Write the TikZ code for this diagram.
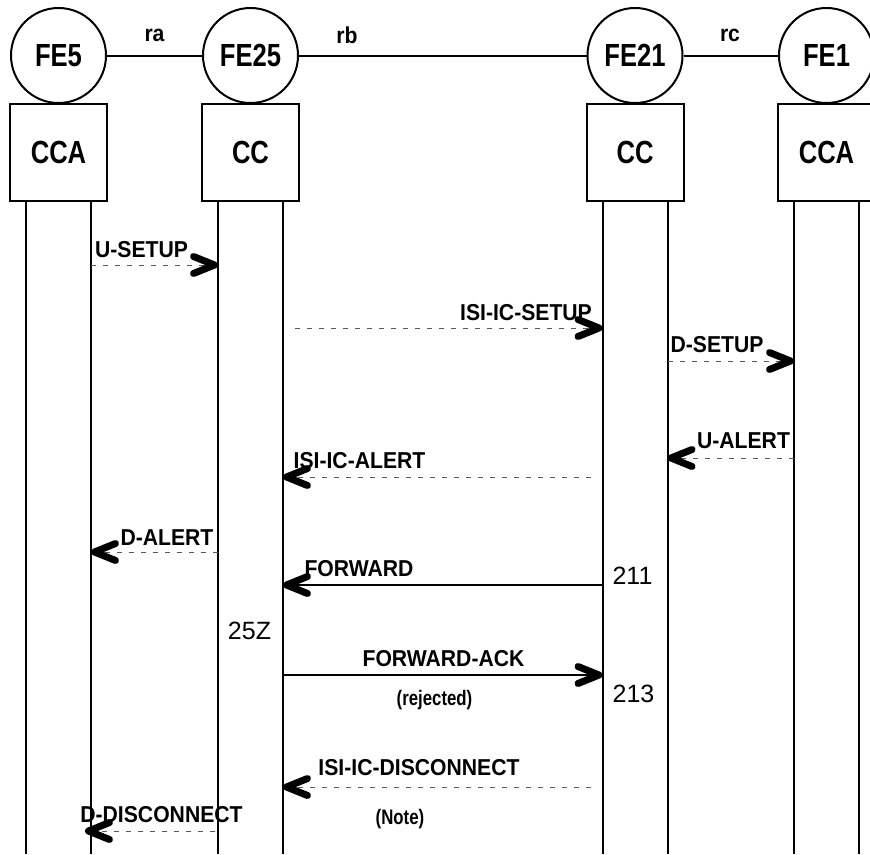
\documentclass[tikz,border=0pt]{standalone}
\usepackage{fontspec}
\setmainfont{Liberation Sans}
\newfontfamily\hdfont[FakeStretch=0.8]{Liberation Sans}
\newfontfamily\msgfont[FakeStretch=0.92]{Liberation Sans}
\usetikzlibrary{arrows.meta,calc}

\begin{document}
\begin{tikzpicture}[
    x=1pt, y=-1pt,
    fe/.style={draw, circle, line width=2pt, minimum size=95pt, inner sep=0pt, font=\hdfont\bfseries\fontsize{32}{32}\selectfont},
    fcbox/.style={draw, rectangle, line width=2pt, minimum width=97pt, minimum height=97pt, inner sep=0pt, font=\hdfont\bfseries\fontsize{32}{32}\selectfont},
    life/.style={line width=2pt},
    lbl/.style={font=\msgfont\bfseries\fontsize{23}{23}\selectfont, inner sep=0pt},
    num/.style={font=\fontsize{25}{25}\selectfont, inner sep=0pt},
    remark/.style={font=\hdfont\bfseries\fontsize{21}{21}\selectfont, inner sep=0pt},
    msgtip/.style={-{Straight Barb[length=21pt, width=17pt, line width=7pt, round, color=black]}},
    sig/.style={msgtip, black!65, line width=1pt, dash pattern=on 5pt off 7pt},
    flow/.style={msgtip, line width=2pt}
]
    \useasboundingbox (0,0) rectangle (870,854);
    \clip (0,0) rectangle (870,854);
    \coordinate (bot) at (0,854);

    % entities and their life lines
    \foreach \n/\x/\fename/\ccname in {a/58.5/FE5/CCA, b/250.5/FE25/CC, c/635/FE21/CC, d/826.5/FE1/CCA} {
        \node[fe] (fe\n) at (\x,55.5) {\fename};
        \node[fcbox] (cc\n) at (\x,152.5) {\ccname};
        \coordinate (\n L) at ($(cc\n.south)+(-32.5,0)$);
        \coordinate (\n R) at ($(cc\n.south)+(32.5,0)$);
        \draw[life] (\n L) -- (\n L |- bot);
        \draw[life] (\n R) -- (\n R |- bot);
    }

    % relationships
    \draw[life] (fea) -- (feb);
    \draw[life] (feb) -- (fec);
    \draw[life] (fec) -- (fed);
    \node[lbl] (ra) at (154.5,35) {ra};
    \node[lbl] (rb) at (347,35) {rb};
    \node[lbl] (rc) at (730,35) {rc};

    % message rows
    \foreach \r/\y in {1/265, 2/328, 3/361, 4/458, 5/477, 6/552, 7/585, 8/675, 9/787, 10/831}
        \coordinate (m\r) at (0,\y);

    \draw[sig] (aR |- m1) -- (bL |- m1);
    \draw[sig, shorten <=12pt] (bR |- m2) -- (cL |- m2);
    \draw[sig] (cR |- m3) -- (dL |- m3);
    \draw[sig] (dL |- m4) -- (cR |- m4);
    \draw[sig, shorten <=12pt] (cL |- m5) -- (bR |- m5);
    \draw[sig] (bL |- m6) -- (aR |- m6);
    \draw[flow] (cL |- m7) -- (bR |- m7);
    \draw[flow] (bR |- m8) -- (cL |- m8);
    \draw[sig, shorten <=12pt] (cL |- m9) -- (bR |- m9);
    \draw[sig, shorten <=3pt, shorten >=-6pt] (bL |- m10) -- (aR |- m10);

    \node[lbl] (usetup) at (141.5,249.5) {U-SETUP};
    \node[lbl] (isetup) at (526,312.5) {ISI-IC-SETUP};
    \node[lbl] (dsetup) at (717,344.5) {D-SETUP};
    \node[lbl] (ualert) at (743.5,441) {U-ALERT};
    \node[lbl] (ialert) at (359.5,460.5) {ISI-IC-ALERT};
    \node[lbl] (dalert) at (167,538) {D-ALERT};
    \node[lbl] (fwd) at (359,569) {FORWARD};
    \node[lbl] (fwdack) at (443.5,659) {FORWARD-ACK};
    \node[remark] (rej) at (434.5,700) {(rejected)};
    \node[lbl] (idisc) at (419,768) {ISI-IC-DISCONNECT};
    \node[remark] (note) at (400,819) {(Note)};
    \node[lbl] (ddisc) at (161.5,815) {D-DISCONNECT};

    \node[num] (s211) at (632.5,576) {211};
    \node[num] (s213) at (633.5,694) {213};
    \node[num] (s25z) at (249.5,630.5) {25Z};
\end{tikzpicture}
\end{document}
